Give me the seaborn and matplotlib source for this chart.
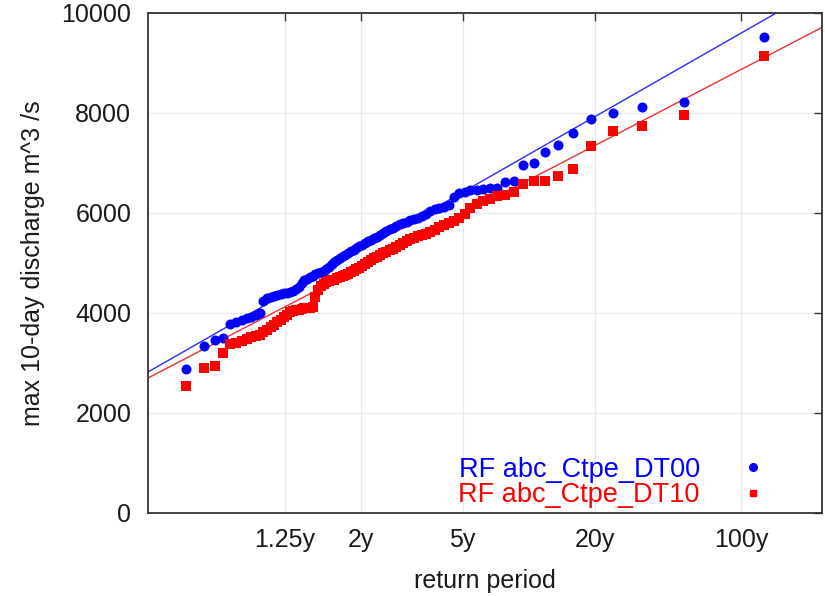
import numpy as np
import pandas as pd
import matplotlib
matplotlib.use("Agg")
import matplotlib.pyplot as plt
import seaborn as sns
from matplotlib.lines import Line2D

# ---- data (sorted annual maxima, m^3/s) ----
dt00_values = [2880, 3340, 3460, 3500, 3780, 3820, 3860, 3900, 3920, 3960,
               4000, 4240, 4300, 4330, 4350, 4370, 4390, 4400, 4410, 4420,
               4440, 4480, 4530, 4600, 4660, 4690, 4720, 4750, 4780, 4800,
               4830, 4850, 4880, 4930, 4990, 5030, 5060, 5100, 5140, 5170,
               5210, 5240, 5270, 5300, 5340, 5370, 5410, 5440, 5470, 5500,
               5520, 5560, 5600, 5640, 5680, 5710, 5740, 5780, 5800, 5830,
               5860, 5890, 5910, 5940, 5980, 6040, 6080, 6100, 6120, 6160,
               6320, 6400, 6430, 6460, 6470, 6480, 6500, 6500, 6620, 6640,
               6960, 7000, 7220, 7360, 7600, 7880, 8000, 8120, 8220, 9520]
dt10_values = [2540, 2900, 2940, 3200, 3380, 3400, 3440, 3480, 3520, 3540,
               3570, 3620, 3660, 3720, 3760, 3820, 3870, 3920, 3960, 4020,
               4040, 4060, 4070, 4090, 4100, 4100, 4100, 4120, 4320, 4460,
               4540, 4580, 4620, 4640, 4660, 4670, 4700, 4720, 4740, 4760,
               4780, 4820, 4850, 4880, 4900, 4950, 4990, 5030, 5070, 5100,
               5130, 5160, 5200, 5230, 5260, 5290, 5320, 5360, 5400, 5440,
               5480, 5510, 5540, 5560, 5590, 5620, 5660, 5720, 5760, 5800,
               5840, 5900, 5980, 6100, 6180, 6250, 6280, 6340, 6360, 6420,
               6580, 6640, 6640, 6740, 6880, 7340, 7640, 7740, 7960, 9140]
series_labels = ["RF abc_Ctpe_DT00", "RF abc_Ctpe_DT10"]
# fitted Gumbel lines (location, scale)
fit_loc = [4874, 4569]
fit_scale = [1027, 935]
return_periods = [1.25, 2, 5, 20, 100]
return_labels = ["1.25y", "2y", "5y", "20y", "100y"]
y_ticks = [0, 2000, 4000, 6000, 8000, 10000]


def gumbel_variate_from_T(T):
    T = np.asarray(T, dtype=float)
    return -np.log(-np.log(1.0 - 1.0 / T))


def plotting_position(n):
    i = np.arange(1, n + 1)
    p = (i - 0.3) / (n + 0.4)
    return -np.log(-np.log(p))


frames = []
for lab, vals in zip(series_labels, [dt00_values, dt10_values]):
    frames.append(pd.DataFrame({"variate": plotting_position(len(vals)),
                                "discharge": vals, "series": lab}))
df = pd.concat(frames, ignore_index=True)

sns.set_style("white")
plt.rcParams["font.family"] = ["Liberation Sans", "DejaVu Sans"]

FS = 18
fig = plt.figure(figsize=(8.25, 5.96), dpi=100)
ax = fig.add_axes([148 / 825, 1 - 513 / 596, (822 - 148) / 825, (513 - 13) / 596])

colors = ["#0000ff", "#ff0000"]
line_colors = ["#2b2bff", "#ee3030"]
markers = ["o", "s"]
xlim = (-2.0, 5.5)
xs = np.array(xlim)
for k, lab in enumerate(series_labels):
    ax.plot(xs, fit_loc[k] + fit_scale[k] * xs, color=line_colors[k], lw=1.0, zorder=2)

for k, lab in enumerate(series_labels):
    sub = df[df["series"] == lab]
    sns.scatterplot(data=sub, x="variate", y="discharge", color=colors[k],
                    marker=markers[k], s=52 if k == 0 else 46, linewidth=0,
                    ax=ax, zorder=3, legend=False)

ax.set_xlim(*xlim)
ax.set_ylim(0, 10000)
ax.set_xticks(gumbel_variate_from_T(return_periods))
ax.set_xticklabels(return_labels)
ax.set_yticks(y_ticks)
ax.grid(True, color="#e8e8e8", lw=0.8)
ax.set_axisbelow(True)
for s in ax.spines.values():
    s.set_color("#333333")
    s.set_linewidth(1.3)
ax.tick_params(direction="in", length=6, width=1.0, color="#333333",
               top=True, right=True, labelsize=FS, labelcolor="#1a1a1a")
ax.tick_params(axis="x", pad=11)
ax.tick_params(axis="y", pad=12)
ax.set_xlabel("return period", fontsize=FS, color="#1a1a1a", labelpad=12)
ax.set_ylabel("max 10-day discharge m^3 /s", fontsize=FS, color="#1a1a1a", labelpad=12)

# legend (text first, marker after, coloured labels)
handles = [Line2D([], [], ls="none", marker=markers[k], color=colors[k],
                  markersize=5.5 if k == 0 else 5) for k in range(2)]
ax.legend(handles, series_labels, loc="lower right", bbox_to_anchor=(0.917, 0.01),
          markerfirst=False, frameon=False, fontsize=19.5, labelcolor=colors,
          handlelength=1.0, handletextpad=1.45, labelspacing=-0.02,
          borderaxespad=0.0, borderpad=0.0)

fig.savefig("out.png", dpi=100)
